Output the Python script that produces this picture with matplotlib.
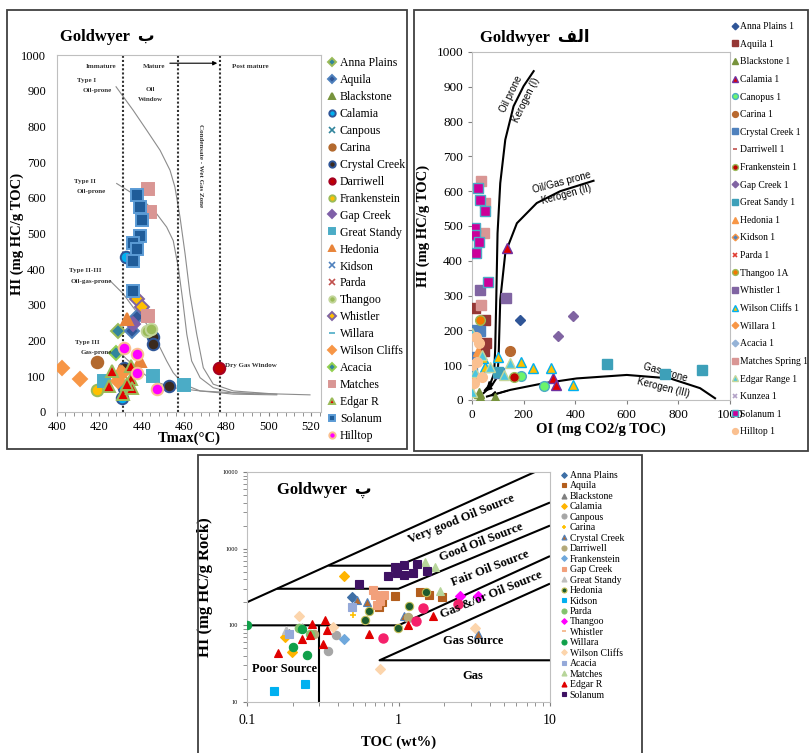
import matplotlib
matplotlib.use('Agg')
import matplotlib.pyplot as plt
from matplotlib.patches import Rectangle
from matplotlib.ticker import MultipleLocator, NullFormatter

# ---------------- panel ب : Tmax vs HI ----------------
B_ANNA = ([429.0], [228])
B_AQUILA = ([437.9, 435.3], [265, 228])
B_BLACKSTONE = ([], [])
B_CALAMIA = ([432.6, 430.6, 431.5], [433, 40, 68])
B_CANPOUS = ([], [])
B_CARINA = ([419.0], [139])
B_CRYSTAL = ([445.2, 445.2, 453.0, 431.7], [211, 190, 73, 124])
B_DARRIWELL = ([476.7], [122])
B_FRANKEN = ([418.7], [61])
B_GAPCREEK = ([436.0], [247])
B_GREATSTANDY = ([422.4, 445.2, 460.0], [87, 101, 75])
B_HEDONIA = ([432.9, 439.2, 429.8], [260, 143, 115])
B_KIDSON = ([], [])
B_PARDA = ([], [])
B_THANGOO = ([442.4, 444.6], [228, 233])
B_WHISTLER = ([437.6, 440.0], [317, 293])
B_WILLARA = ([], [])
B_WILSON = ([402.2, 410.9, 429.0, 430.6], [124, 92, 87, 110])
B_ACACIA = ([427.9], [165])
B_MATCHES = ([442.9, 443.9, 442.9], [626, 560, 270])
B_EDGAR = ([426.1, 424.7, 431.3, 435.0, 435.0, 435.3, 432.9], [115, 73, 50, 129, 92, 68, 78])
B_SOLANUM = ([437.9, 439.2, 440.0, 439.2, 436.0, 437.6, 436.0, 436.0],
             [609, 574, 538, 492, 474, 457, 422, 340])
B_HILLTOP = ([431.8, 437.6, 437.6, 447.1], [178, 162, 110, 64])

# kerogen type guide curves (Tmax, HI)
TYPE1_T = [427.9, 436.0, 442.4, 448.7, 453.4, 455.7, 458.1, 460.5, 462.8, 466.0, 469.1, 473.8, 483.3, 503.8]
TYPE1_HI = [911, 845, 789, 733, 677, 630, 546, 443, 331, 218, 124, 78, 59, 50]
TYPE2_T = [428.2, 436.0, 442.4, 447.1, 451.8, 454.9, 457.3, 459.4, 461.3, 463.6, 467.6, 473.8, 483.3, 519.5]
TYPE2_HI = [640, 611, 583, 555, 518, 480, 405, 312, 218, 143, 96, 68, 54, 48]
TYPE23_T = [425.0, 431.3, 436.0, 442.4, 447.1, 451.8, 454.9, 459.7, 467.6, 483.3, 503.8]
TYPE23_HI = [368, 331, 293, 246, 199, 143, 110, 78, 59, 50, 48]
TYPE3_T = [427.4, 432.9, 439.2, 445.5, 454.9, 467.6, 492.7]
TYPE3_HI = [181, 148, 115, 87, 68, 59, 51]
ZONE_T = [431, 457, 477]

# ---------------- panel الف : OI vs HI ----------------
A_ANNA = ([187], [230])
A_AQUILA = ([13, 52, 55, 45], [264, 230, 163, 140])
A_BLACKSTONE = ([32, 88, 26], [5, 5, 19])
A_CALAMIA = ([135, 314, 326], [436, 62, 43])
A_CANOPUS = ([191, 280], [69, 41])
A_CARINA = ([146], [141])
A_CRYSTAL = ([32, 6, 0, 103, 20], [197, 125, 77, 77, 200])
A_DARRIWELL = ([], [])
A_FRANKEN = ([161], [65])
A_GAPCREEK = ([391, 335], [240, 185])
A_GREATSANDY = ([525, 748, 893, 100], [103, 74, 86, 80])
A_HEDONIA = ([25], [140])
A_KIDSON = ([], [])
A_PARDA = ([], [])
A_THANGOO = ([30], [230])
A_WHISTLER = ([30, 132], [316, 292])
A_WILSON = ([101, 191, 236, 307, 390, 52, 41], [125, 110, 91, 91, 43, 96, 120])
A_WILLARA = ([0, 13], [43, 58])
A_ACACIA = ([], [])
A_MATCHES = ([35, 52, 45, 35], [628, 566, 480, 273])
A_EDGAR = ([123, 71, 13, 39, 148, 0, 0], [72, 96, 81, 129, 105, 192, 24])
A_KUNZEA = ([], [])
A_SOLANUM = ([22, 32, 52, 13, 13, 26, 15, 62], [609, 575, 542, 494, 475, 455, 422, 340])
A_HILLTOP = ([17, 26, 19, 39, 0, 6], [182, 163, 110, 67, 100, 48])

KER1_OI = [50, 70, 86, 90, 94, 99, 109.5, 129, 161, 200, 239]
KER1_HI = [28, 45, 77, 150, 288, 479, 623, 748, 844, 902, 945]
KER2_OI = [45, 75, 98, 103, 109.5, 129, 174, 251, 342, 471]
KER2_HI = [20, 40, 66, 120, 288, 422, 508, 566, 600, 630]
KER3_OI = [58, 148, 277, 406, 600, 768, 884, 942]
KER3_HI = [10, 29, 48, 62, 72, 62, 34, 5]

# ---------------- panel پ : TOC vs HI ----------------
P_ANNA = ([0.49], [234])
P_AQUILA = ([1.39, 1.6, 1.93, 0.95, 0.74, 0.78], [272, 250, 234, 238, 175, 200])
P_BLACKSTONE = ([0.19], [80])
P_CALAMIA = ([0.437, 0.179, 0.198], [440, 71, 45])
P_CANPOUS = ([0.388, 0.34, 1.15], [74, 46, 125])
P_CARINA = ([0.5], [135])
P_CRYSTAL = ([0.53, 0.62, 1.09, 3.37], [215, 202, 132, 78])
P_DARRIWELL = ([1.15, 0.219, 0.275], [129, 92, 78])
P_FRANKEN = ([0.437], [67])
P_GAPCREEK = ([0.68, 0.70, 0.80, 0.76, 0.72], [290, 250, 250, 210, 185])
P_GREATSTANDY = ([0.18, 0.23], [88, 95])
P_HEDONIA = ([0.64, 0.60, 1.17, 1.52, 0.99], [154, 119, 179, 272, 91])
P_KIDSON = ([0.150, 0.24], [13.8, 17.4])
P_PARDA = ([0.22, 0.26], [92, 76])
P_THANGOO = ([2.55, 3.37], [240, 240])
P_WHISTLER = ([], [])
P_WILLARA = ([0.1, 0.231, 0.2, 0.25], [100, 89, 52, 41])
P_WILSON = ([0.219, 0.369, 0.757, 3.2], [132, 94, 27, 92])
P_ACACIA = ([0.188, 0.49], [76, 174])
P_MATCHES = ([1.5, 1.74, 1.88], [671, 577, 279])
P_EDGAR = ([0.159, 0.268, 0.328, 0.23, 0.261, 0.336, 0.316, 0.64, 1.15, 1.68],
           [43.6, 105, 119, 67, 74, 86, 57, 78, 100, 132])
P_SOLANUM = ([0.95, 1.08, 1.32, 0.857, 0.98, 1.08, 1.25, 1.54, 0.55],
             [577, 608, 640, 437, 480, 455, 488, 507, 351])
P_PINK = ([0.795, 1.31, 1.46, 2.48], [69, 113, 166, 187])

# source-rock field boundaries (TOC, HI)
BND_A = ([0.1, 7.94], [200, 10000])
BND_B = ([0.345, 1.0, 10], [600, 600, 4000])
BND_C = ([0.158, 1.0, 10], [300, 300, 2000])
BND_D = ([0.1, 1.0, 10], [100, 100, 800])
BND_E = ([10, 0.75, 10], [35, 35, 350])
BND_V = ([0.3, 0.3], [10, 100])

plt.rcParams['font.family'] = ['Liberation Serif', 'DejaVu Sans']
ARAB = ['Liberation Serif', 'DejaVu Sans']

fig = plt.figure(figsize=(8.09, 7.53), dpi=100)


def fx(x):
    return x / 809.0


def fy(y):
    return 1 - y / 753.0


for x0, y0, x1, y1 in [(7, 10, 407, 449), (414, 10, 808, 451), (198, 455, 642, 770)]:
    fig.add_artist(Rectangle((fx(x0), fy(y1)), fx(x1) - fx(x0), fy(y0) - fy(y1),
                             transform=fig.transFigure, fill=False, ec='#404040', lw=1.3))


def draw(ax, styles, ms, mew):
    for label, (xs, ys), m, fc, ec in styles:
        size = ms * 0.8 if m == 'D' else ms
        if m in ('x', '+', '_'):
            ax.plot(xs, ys, ls='none', marker=m, ms=size * 0.8, color=fc, mew=1.2, label=label, zorder=3)
        else:
            ax.plot(xs, ys, ls='none', marker=m, ms=size, mfc=fc, mec=ec, mew=mew, label=label, zorder=3)


def frame(ax):
    for s in ax.spines.values():
        s.set_color('#BFBFBF')
        s.set_linewidth(0.8)


# ================= panel ب =================
axB = fig.add_axes([fx(57), fy(412), fx(321) - fx(57), fy(55) - fy(412)])
frame(axB)
for t, h in [(TYPE1_T, TYPE1_HI), (TYPE2_T, TYPE2_HI), (TYPE23_T, TYPE23_HI), (TYPE3_T, TYPE3_HI)]:
    axB.plot(t, h, color='#8C8C8C', lw=0.8, zorder=1)
for z in ZONE_T:
    axB.axvline(z, color='#333333', ls=(0, (1, 1)), lw=1.5, zorder=1)
axB.annotate('', xy=(477, 977), xytext=(452, 977),
             arrowprops=dict(arrowstyle='-|>', color='k', lw=0.8, mutation_scale=6))

styles_b = [
    ('Anna Plains', B_ANNA, 'D', '#31859C', '#9BBB59'),
    ('Aquila', B_AQUILA, 'D', '#2F5597', '#4F81BD'),
    ('Blackstone', B_BLACKSTONE, '^', '#77933C', '#77933C'),
    ('Calamia', B_CALAMIA, 'o', '#00B0F0', '#2F5597'),
    ('Canpous', B_CANPOUS, 'x', '#31859C', '#31859C'),
    ('Carina', B_CARINA, 'o', '#B3692E', '#B3692E'),
    ('Crystal Creek', B_CRYSTAL, 'o', '#3B2A1E', '#2F5597'),
    ('Darriwell', B_DARRIWELL, 'o', '#C00000', '#A50021'),
    ('Frankenstein', B_FRANKEN, 'o', '#FFC000', '#9BBB59'),
    ('Gap Creek', B_GAPCREEK, 'D', '#7F5FA8', '#7F5FA8'),
    ('Great Standy', B_GREATSTANDY, 's', '#4BACC6', '#4BACC6'),
    ('Hedonia', B_HEDONIA, '^', '#E8843A', '#E8843A'),
    ('Kidson', B_KIDSON, 'x', '#4F81BD', '#4F81BD'),
    ('Parda', B_PARDA, 'x', '#C0504D', '#C0504D'),
    ('Thangoo', B_THANGOO, 'o', '#9BBB59', '#C3D69B'),
    ('Whistler', B_WHISTLER, 'D', '#FFC000', '#8064A2'),
    ('Willara', B_WILLARA, '_', '#4BACC6', '#4BACC6'),
    ('Wilson Cliffs', B_WILSON, 'D', '#F79646', '#F79646'),
    ('Acacia', B_ACACIA, 'D', '#31859C', '#92D050'),
    ('Matches', B_MATCHES, 's', '#D99694', '#D99694'),
    ('Edgar R', B_EDGAR, '^', '#E00000', '#9BBB59'),
    ('Solanum', B_SOLANUM, 's', '#1F5C99', '#5B9BD5'),
    ('Hilltop', B_HILLTOP, 'o', '#FF00FF', '#FAC090'),
]
draw(axB, styles_b, 8.3, 1.4)
axB.set_xlim(400, 524.7)
axB.set_ylim(0, 1000)
axB.set_xticks(range(400, 521, 20))
axB.xaxis.set_minor_locator(MultipleLocator(4))
axB.set_yticks(range(0, 1001, 100))
axB.tick_params(axis='x', which='both', direction='out', length=3, color='#808080', labelsize=9)
axB.tick_params(axis='y', length=0, labelsize=9, pad=8)
axB.set_xlabel('Tmax(°C)', fontsize=10.5, weight='bold', labelpad=-1)
axB.set_ylabel('HI (mg HC/g TOC)', fontsize=10.5, weight='bold')
axB.yaxis.set_label_coords(-0.125, 0.5)

small = dict(fontsize=5, weight='bold', ha='center', va='center', color='#333333')
axB.text(421, 967, 'Immature', **small)
axB.text(446, 967, 'Mature', **small)
axB.text(491.5, 967, 'Post mature', **small)
axB.text(414, 928, 'Type I', **small)
axB.text(419, 900, 'Oil-prone', **small)
axB.text(444, 903, 'Oil', **small)
axB.text(444, 876, 'Window', **small)
axB.text(413.2, 646, 'Type II', **small)
axB.text(416, 618, 'Oil-prone', **small)
axB.text(413.2, 396, 'Type II-III', **small)
axB.text(416, 366, 'Oil-gas-prone', **small)
axB.text(414.3, 195, 'Type III', **small)
axB.text(418.4, 167, 'Gas-prone', **small)
axB.text(491.5, 131, 'Dry Gas Window', **small)
axB.text(467.6, 691, 'Condensate - Wet Gas Zone', rotation=-90, **small)

fig.text(fx(60), fy(37), 'Goldwyer  ب', family=ARAB, fontsize=12, weight='bold', va='center')
axB.legend(loc='upper left', bbox_to_anchor=(fx(327), fy(57)), bbox_transform=fig.transFigure,
           frameon=False, fontsize=8.5, labelspacing=0.42, handlelength=0.8, handletextpad=0.3,
           borderpad=0, borderaxespad=0, markerscale=0.55)

# ================= panel الف =================
axA = fig.add_axes([fx(472), fy(400), fx(730) - fx(472), fy(52) - fy(400)])
frame(axA)
for o, h in [(KER1_OI, KER1_HI), (KER2_OI, KER2_HI), (KER3_OI, KER3_HI)]:
    axA.plot(o, h, color='k', lw=1.5, zorder=2)
    axA.annotate('', xy=(o[0], h[0]), xytext=(o[1], h[1]),
                 arrowprops=dict(arrowstyle='-|>', color='k', lw=1.2, mutation_scale=8), zorder=2)

styles_a = [
    ('Anna Plains 1', A_ANNA, 'D', '#2F5597', '#2F5597'),
    ('Aquila 1', A_AQUILA, 's', '#953735', '#953735'),
    ('Blackstone 1', A_BLACKSTONE, '^', '#77933C', '#77933C'),
    ('Calamia 1', A_CALAMIA, '^', '#E00000', '#7030A0'),
    ('Canopus 1', A_CANOPUS, 'o', '#6CF56C', '#4BACC6'),
    ('Carina 1', A_CARINA, 'o', '#B8692F', '#B8692F'),
    ('Crystal Creek 1', A_CRYSTAL, 's', '#4F81BD', '#4F81BD'),
    ('Darriwell 1', A_DARRIWELL, '_', '#C0504D', '#C0504D'),
    ('Frankenstein 1', A_FRANKEN, 'o', '#C00000', '#9BBB59'),
    ('Gap Creek 1', A_GAPCREEK, 'D', '#8064A2', '#8064A2'),
    ('Great Sandy 1', A_GREATSANDY, 's', '#3DA0B9', '#3DA0B9'),
    ('Hedonia 1', A_HEDONIA, '^', '#F79646', '#F79646'),
    ('Kidson 1', A_KIDSON, 'D', '#4F81BD', '#F79646'),
    ('Parda 1', A_PARDA, 'x', '#E03C31', '#E03C31'),
    ('Thangoo 1A', A_THANGOO, 'o', '#F07800', '#9BBB59'),
    ('Whistler 1', A_WHISTLER, 's', '#8064A2', '#8064A2'),
    ('Wilson Cliffs 1', A_WILSON, '^', '#FFC000', '#00B0F0'),
    ('Willara 1', A_WILLARA, 'D', '#F79646', '#F79646'),
    ('Acacia 1', A_ACACIA, 'D', '#95B3D7', '#95B3D7'),
    ('Matches Spring 1', A_MATCHES, 's', '#D99694', '#D99694'),
    ('Edgar Range 1', A_EDGAR, '^', '#4BC6E0', '#C3D69B'),
    ('Kunzea 1', A_KUNZEA, 'x', '#B3A2C7', '#B3A2C7'),
    ('Solanum 1', A_SOLANUM, 's', '#CC0099', '#4BACC6'),
    ('Hilltop 1', A_HILLTOP, 'o', '#FAC090', '#FAC090'),
]
draw(axA, styles_a, 7.0, 1.0)
axA.set_xlim(0, 1000)
axA.set_ylim(0, 1000)
axA.set_xticks(range(0, 1001, 200))
axA.set_yticks(range(0, 1001, 100))
axA.tick_params(direction='out', length=3, color='#808080', labelsize=9.5)
axA.set_xlabel('OI (mg CO2/g TOC)', fontsize=10.5, weight='bold', labelpad=1)
axA.set_ylabel('HI (mg HC/g TOC)', fontsize=10.5, weight='bold')
axA.yaxis.set_label_coords(-0.163, 0.5)

sans = dict(family='Liberation Sans', fontsize=7, ha='center', va='center', zorder=2)
axA.text(150, 880, 'Oil prone', rotation=64, **sans)
axA.text(210, 862, 'Kerogen (I)', rotation=64, **sans)
axA.text(348, 625, 'Oil/Gas prone', rotation=15, **sans)
axA.text(365, 590, 'Kerogen (II)', rotation=15, **sans)
axA.text(748, 80, 'Gas prone', rotation=-16, **sans)
axA.text(742, 36, 'Kerogen (III)', rotation=-14, **sans)

fig.text(fx(480), fy(37), 'Goldwyer  \uFED2\uFEDF\uFE8D', family=ARAB, fontsize=12, weight='bold', va='center')
axA.legend(loc='upper left', bbox_to_anchor=(fx(731), fy(22)), bbox_transform=fig.transFigure,
           frameon=False, fontsize=6.9, labelspacing=0.9, handlelength=0.8, handletextpad=0.15,
           borderpad=0, borderaxespad=0, markerscale=0.6)

# ================= panel پ =================
axP = fig.add_axes([fx(247), fy(702), fx(550) - fx(247), fy(472) - fy(702)])
frame(axP)
axP.set_xscale('log')
axP.set_yscale('log')
for t, h in [BND_A, BND_B, BND_C, BND_D, BND_E, BND_V]:
    axP.plot(t, h, color='k', lw=1.5, zorder=2, solid_capstyle='butt')

styles_p = [
    ('Anna Plains', P_ANNA, 'D', '#3E6FA6', '#3E6FA6'),
    ('Aquila', P_AQUILA, 's', '#B35E1D', '#B35E1D'),
    ('Blackstone', P_BLACKSTONE, '^', '#7F7F7F', '#7F7F7F'),
    ('Calamia', P_CALAMIA, 'D', '#FFB400', '#FFB400'),
    ('Canpous', P_CANPOUS, 'o', '#A6A6A6', '#A6A6A6'),
    ('Carina', P_CARINA, '+', '#FFC000', '#FFC000'),
    ('Crystal Creek', P_CRYSTAL, '^', '#B3692E', '#4F81BD'),
    ('Darriwell', P_DARRIWELL, 'o', '#B3A878', '#B3A878'),
    ('Frankenstein', P_FRANKEN, 'D', '#6FA8DC', '#6FA8DC'),
    ('Gap Creek', P_GAPCREEK, 's', '#F2A07B', '#F2A07B'),
    ('Great Standy', P_GREATSTANDY, '^', '#BFBFBF', '#BFBFBF'),
    ('Hedonia', P_HEDONIA, 'o', '#1D5B2E', '#C4BD56'),
    ('Kidson', P_KIDSON, 's', '#00B0F0', '#00B0F0'),
    ('Parda', P_PARDA, 'o', '#82C26E', '#82C26E'),
    ('Thangoo', P_THANGOO, 'D', '#FF00FF', '#FF00FF'),
    ('Whistler', P_WHISTLER, '_', '#F4B183', '#F4B183'),
    ('Willara', P_WILLARA, 'o', '#10A04A', '#10A04A'),
    ('Wilson Cliffs', P_WILSON, 'D', '#FCD5AC', '#FCD5AC'),
    ('Acacia', P_ACACIA, 's', '#95A9D9', '#95A9D9'),
    ('Matches', P_MATCHES, '^', '#B7D59A', '#B7D59A'),
    ('Edgar R', P_EDGAR, '^', '#E00000', '#E00000'),
    ('Solanum', P_SOLANUM, 's', '#3F1263', '#3F1263'),
]
draw(axP, styles_p, 6.0, 0.8)
axP.plot(*P_PINK, ls='none', marker='o', ms=6.5, mfc='#F5206A', mec='#F5206A', zorder=3)
axP.set_xlim(0.1, 10)
axP.set_ylim(10, 10000)
axP.set_xticks([0.1, 1, 10])
axP.set_xticklabels(['0.1', '1', '10'])
axP.set_yticks([10, 100, 1000, 10000])
axP.set_yticklabels(['10', '100', '1000', '10000'])
axP.xaxis.set_minor_formatter(NullFormatter())
axP.yaxis.set_minor_formatter(NullFormatter())
axP.tick_params(axis='x', which='both', direction='out', length=3, color='#808080', labelsize=10, pad=6)
axP.tick_params(axis='y', which='both', direction='out', length=3, color='#808080', labelsize=4.5)
axP.set_xlabel('TOC (wt%)', fontsize=10.5, weight='bold', labelpad=6)
axP.set_ylabel('HI (mg HC/g Rock)', fontsize=12, weight='bold')
axP.yaxis.set_label_coords(-0.112, 0.5)

lab = dict(fontsize=9, weight='bold', ha='center', va='center', zorder=4)
axP.text(2.6, 2460, 'Very good Oil Source', rotation=22, **lab)
axP.text(3.54, 1220, 'Good Oil Source', rotation=21, **lab)
axP.text(4.02, 550, 'Fair Oil Source', rotation=21, **lab)
axP.text(4.12, 247, 'Gas &/or Oil Source', rotation=22, **lab)
axP.text(3.12, 63, 'Gas Source', **lab)
axP.text(3.08, 22, 'Gas', **lab)
axP.text(0.177, 26.8, 'Poor Source', **lab)
axP.text(0.158, 5800, 'Goldwyer  پ', family=ARAB, fontsize=12, weight='bold', va='center')
axP.legend(loc='upper left', bbox_to_anchor=(fx(560), fy(471)), bbox_transform=fig.transFigure,
           frameon=False, fontsize=7, labelspacing=0.15, handlelength=0.8, handletextpad=0.2,
           borderpad=0, borderaxespad=0, markerscale=0.6)

fig.savefig('out.png', dpi=100)
